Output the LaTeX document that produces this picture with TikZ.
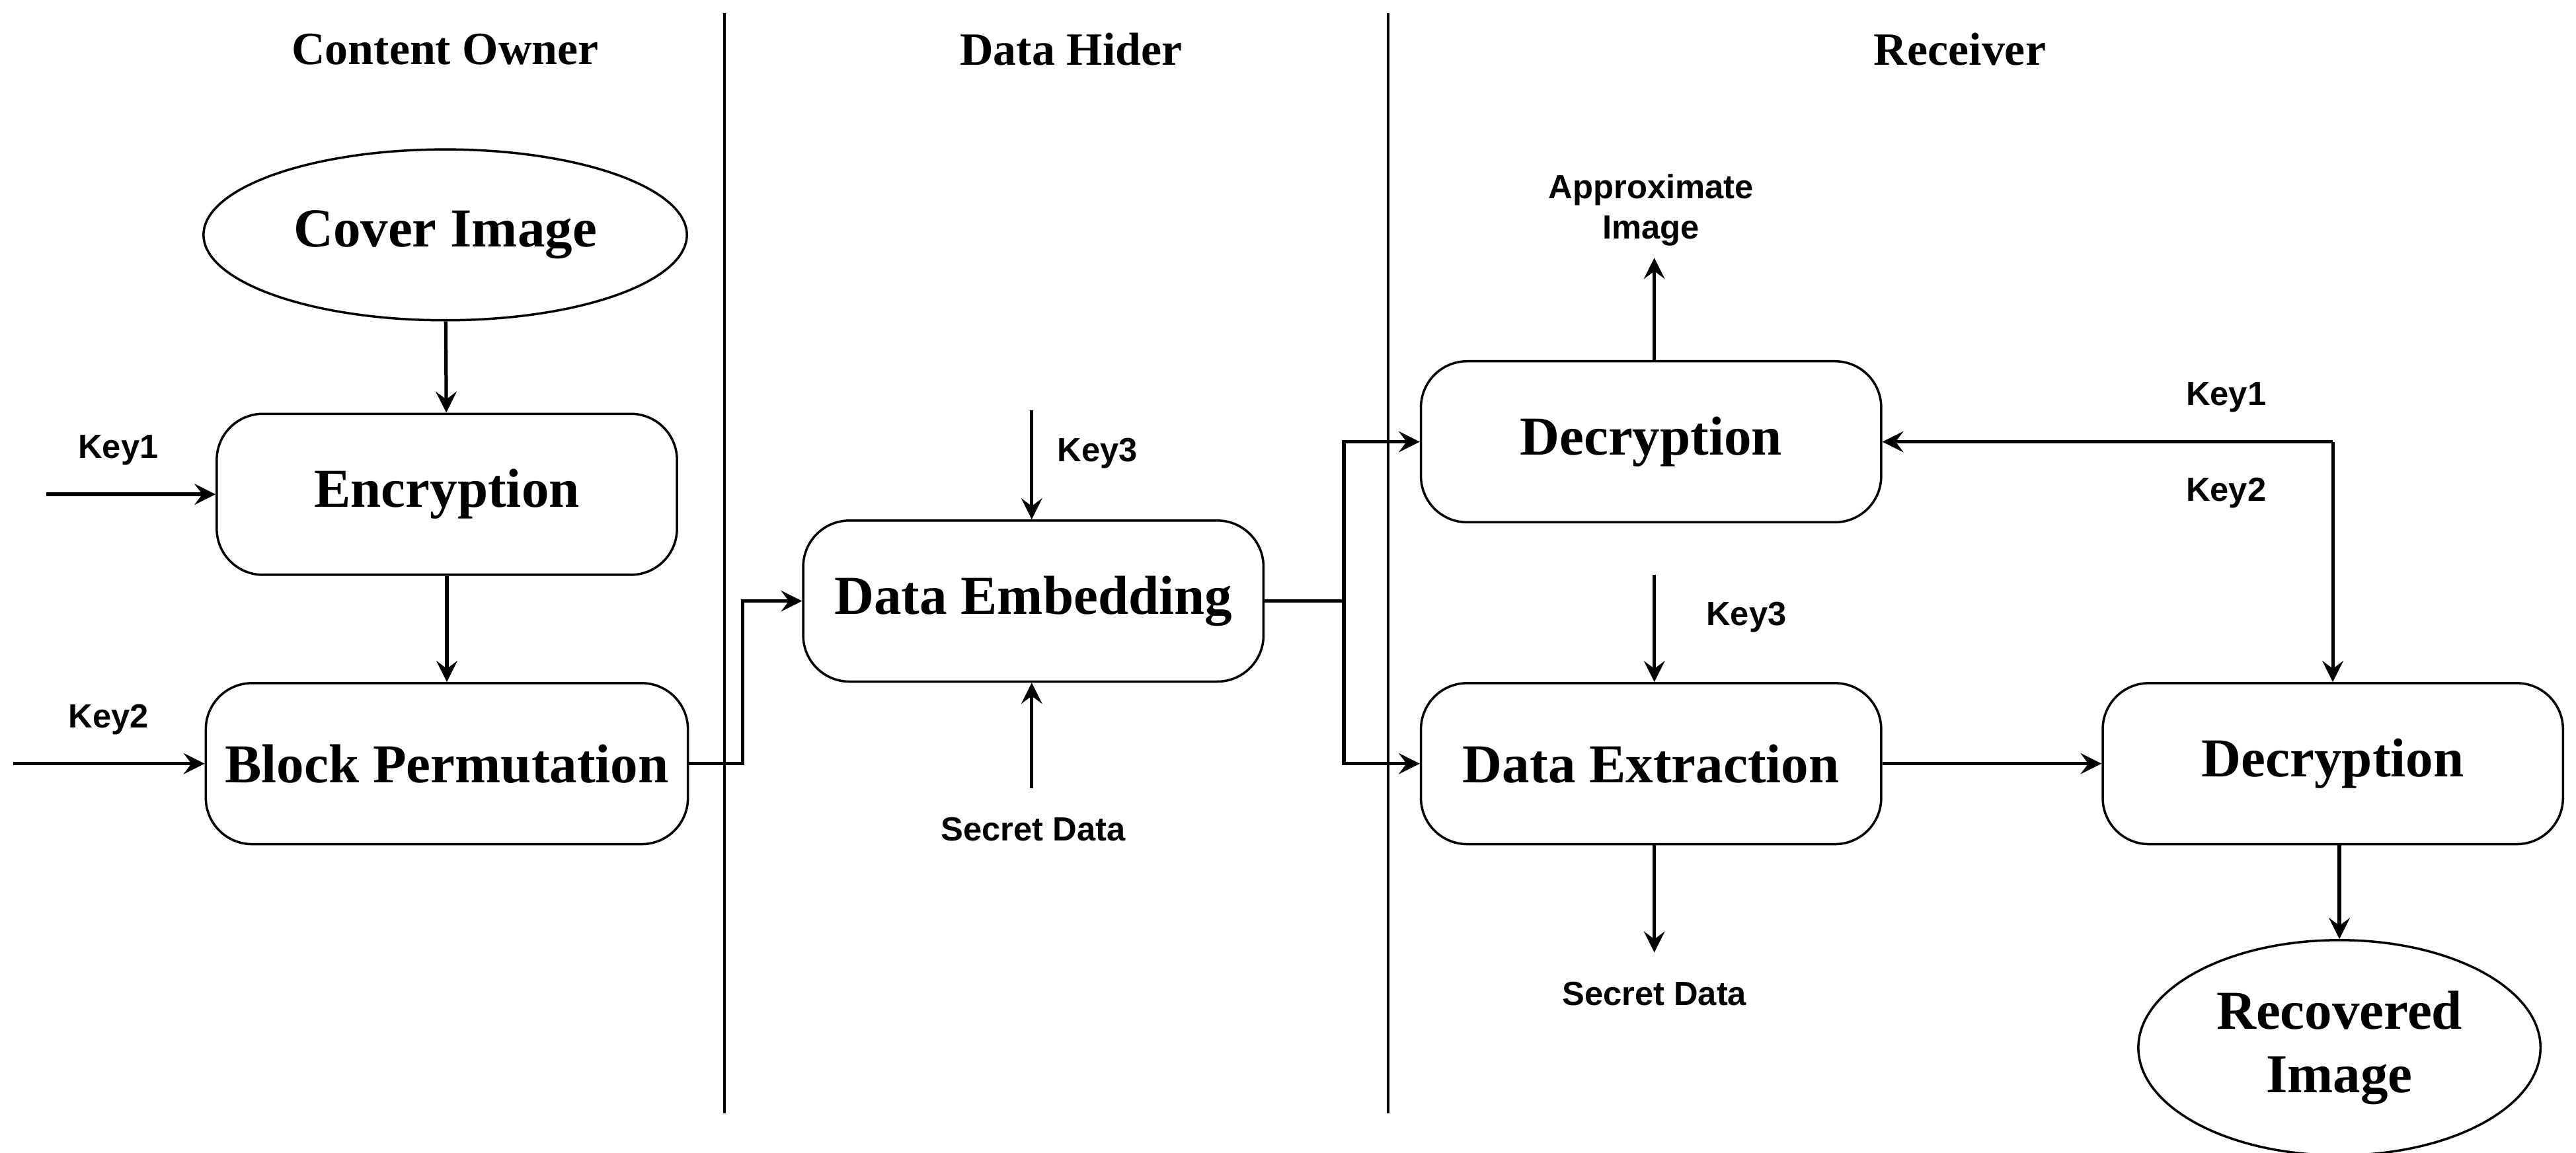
\documentclass[tikz,border=0pt]{standalone}
\usepackage{fontspec}
\setmainfont{Liberation Serif}
\newfontfamily\lblfont{Liberation Sans}
\usetikzlibrary{shapes.geometric}

\tikzset{
  block/.style={draw, rounded corners=8pt, minimum width=2.8cm, minimum height=0.98cm, font=\fontsize{9.5}{11}\selectfont\bfseries},
  blob/.style={draw, ellipse, font=\fontsize{9.5}{11}\selectfont\bfseries, align=center},
  lbl/.style={font=\lblfont\fontsize{5.8}{7}\selectfont\bfseries, align=center},
  head/.style={font=\fontsize{8}{10}\selectfont\bfseries},
  flow/.style={->, >=stealth, semithick},
}

\begin{document}
\begin{tikzpicture}[x=0.01cm, y=-0.01cm]
  \useasboundingbox (0,0) rectangle (1568,702);

  % lanes
  \draw (441,8) -- (441,678);
  \draw (845,8) -- (845,678);
  \node [head] at (271,30) {Content Owner};
  \node [head] at (652,30) {Data Hider};
  \node [head] at (1193,30) {Receiver};

  % content owner
  \node [blob, minimum width=1.86cm, minimum height=1.04cm] (cover) at (271,143) {Cover Image};
  \node [block] (enc) at (272,301) {Encryption};
  \node [block] (perm) at (272,465) {Block Permutation};
  \coordinate (k1in) at (28,301);
  \coordinate (k2in) at (8,465);
  \draw [flow] (cover) -- (enc);
  \draw [flow] (enc) -- (perm);
  \draw [flow] (k1in) -- (enc);
  \draw [flow] (k2in) -- (perm);
  \node [lbl] at (72,274) {Key1};
  \node [lbl] at (66,438) {Key2};

  % data hider
  \node [block] (embed) at (629,366) {Data Embedding};
  \coordinate (k3a) at (628,250);
  \coordinate (sda) at (628,480);
  \draw [flow] (perm.east) -- (452,465) -- (452,366) -- (embed.west);
  \draw [flow] (k3a) -- (embed.north -| k3a);
  \draw [flow] (sda) -- (embed.south -| sda);
  \node [lbl] at (668,276) {Key3};
  \node [lbl] at (629,505) {Secret Data};

  % receiver
  \node [block] (dec1) at (1005,269) {Decryption};
  \node [block] (extr) at (1005,465) {Data Extraction};
  \node [block] (dec2) at (1420,465) {Decryption};
  \node [blob, minimum width=2.3cm, minimum height=1.04cm] (rec) at (1424,638) {Recovered\\Image};
  \coordinate (split) at (818,366);
  \coordinate (approx) at (1007,157);
  \coordinate (k3b) at (1007,350);
  \coordinate (sdb) at (1007,580);
  \coordinate (corner) at (1420,269);
  \draw [semithick] (embed.east) -- (split);
  \draw [flow] (split) |- (dec1.west);
  \draw [flow] (split) |- (extr.west);
  \draw [flow] (dec1.north -| approx) -- (approx);
  \draw [flow] (k3b) -- (extr.north -| k3b);
  \draw [flow] (extr.south -| sdb) -- (sdb);
  \draw [flow] (extr) -- (dec2);
  \draw [flow] (corner) -- (dec1.east);
  \draw [flow] (corner) -- (dec2.north);
  \draw [flow] (dec2.south -| rec) -- (rec);
  \node [lbl] at (1005,128) {Approximate\\Image};
  \node [lbl] at (1063,376) {Key3};
  \node [lbl] at (1007,605) {Secret Data};
  \node [lbl] at (1355,242) {Key1};
  \node [lbl] at (1355,300) {Key2};
\end{tikzpicture}
\end{document}
